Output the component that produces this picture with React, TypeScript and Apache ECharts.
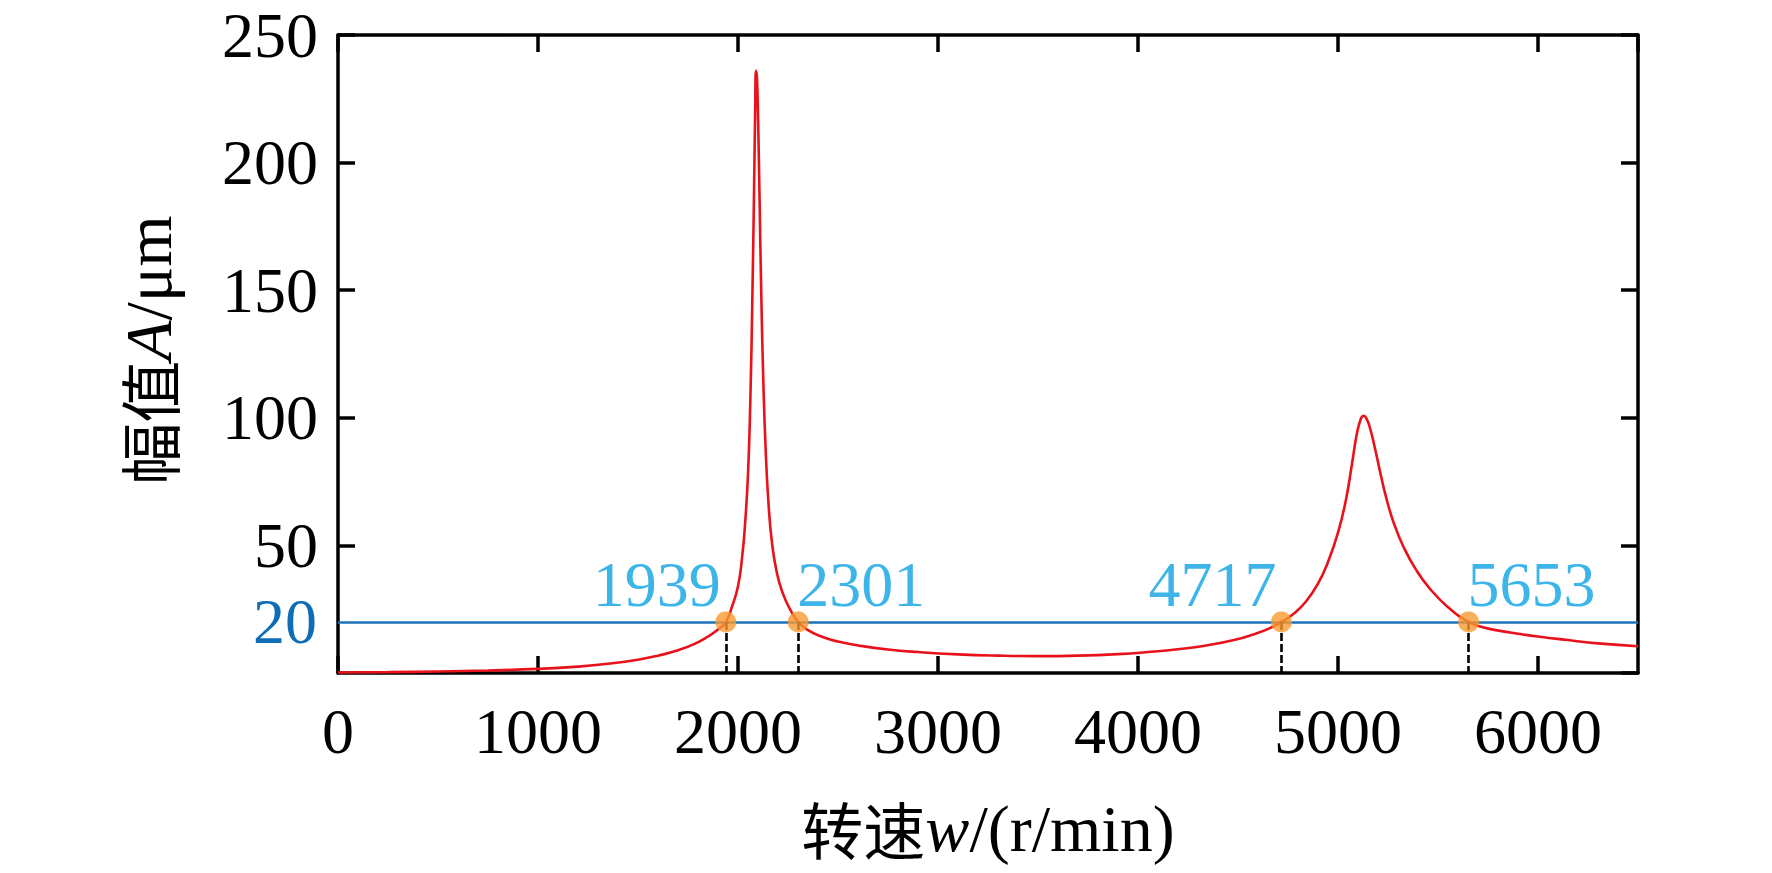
import React, { useEffect, useRef } from "react";
import * as echarts from "echarts";

// Amplitude–speed response curve
const curveRpm = [
  0, 250, 500, 750, 1000, 1200, 1350, 1500, 1600, 1700, 1780, 1850, 1900, 1939,
  1970, 2000, 2020, 2035, 2050, 2062, 2072, 2080, 2086, 2090, 2095, 2101, 2108,
  2116, 2126, 2138, 2152, 2170, 2195, 2225, 2260, 2301, 2350, 2420, 2500, 2600,
  2750, 2900, 3100, 3300, 3500, 3700, 3900, 4050, 4200, 4350, 4480, 4580, 4660,
  4717, 4780, 4840, 4900, 4950, 5000, 5040, 5070, 5095, 5115, 5128, 5142, 5160,
  5185, 5210, 5240, 5280, 5330, 5390, 5460, 5550, 5653, 5720, 5810, 5900,
  6000, 6150, 6300, 6500,
];
const curveAmp = [
  0.2, 0.35, 0.6, 1.0, 1.6, 2.5, 3.6, 5.2, 6.8, 8.9, 11.3, 14.3, 17.0, 20,
  26, 34, 45, 58, 78, 108, 148, 188, 221, 236, 233, 215, 185,
  150, 116, 88, 67, 51, 39, 31, 25, 20, 16.8, 14.2, 12.3, 10.8,
  9.2, 8.2, 7.3, 6.8, 6.6, 6.8, 7.4, 8.2, 9.3, 10.9, 12.9, 15.2, 17.6,
  20, 23.3, 28, 35, 43.5, 55, 68, 82, 94, 99.7, 100.8, 99.8, 96,
  88, 79, 69, 58.5, 49, 40.5, 33, 25.8, 20, 18.0, 16.5, 15.4,
  14.3, 12.9, 11.6, 10.5,
];

const threshold = 20;
const crossRpm = [1939, 2301, 4717, 5653];
const crossLabelAlign = ["right", "left", "right", "left"];

const xMin = 0;
const xMax = 6500;
const xStep = 1000;
const yMin = 0;
const yMax = 250;
const yStep = 50;

const SERIF = "'Liberation Serif', 'Times New Roman', serif";
const CJK = "'Noto Sans CJK SC', 'Liberation Serif', serif";

export default function App() {
  const ref = useRef<HTMLDivElement>(null);

  useEffect(() => {
    document.body.style.margin = "0";
    if (!ref.current) return;
    const chart = echarts.init(ref.current, undefined, { renderer: "svg" });

    const axisLineStyle = { color: "#000", width: 3.5 };
    const tickCommon = {
      show: true,
      inside: true,
      length: 17,
      lineStyle: { color: "#000", width: 3.5 },
    };
    const labelCommon = {
      fontSize: 64,
      fontFamily: SERIF,
      color: "#000",
      formatter: (v: number) => String(v),
    };

    const option: any = {
      animation: false,
      backgroundColor: "#fff",
      grid: { left: 338, right: 134, top: 35, bottom: 200, containLabel: false },
      xAxis: [
        {
          type: "value",
          min: xMin,
          max: xMax,
          interval: xStep,
          position: "bottom",
          axisLine: { show: true, onZero: false, lineStyle: axisLineStyle },
          axisTick: tickCommon,
          axisLabel: { ...labelCommon, margin: 26, showMaxLabel: false },
          splitLine: { show: false },
        },
        {
          type: "value",
          min: xMin,
          max: xMax,
          interval: xStep,
          position: "top",
          axisLine: { show: true, onZero: false, lineStyle: axisLineStyle },
          axisTick: tickCommon,
          axisLabel: { show: false },
          splitLine: { show: false },
        },
      ],
      yAxis: [
        {
          type: "value",
          min: yMin,
          max: yMax,
          interval: yStep,
          position: "left",
          axisLine: { show: true, onZero: false, lineStyle: axisLineStyle },
          axisTick: tickCommon,
          axisLabel: { ...labelCommon, margin: 20, showMinLabel: false },
          splitLine: { show: false },
        },
        {
          type: "value",
          min: yMin,
          max: yMax,
          interval: yStep,
          position: "right",
          axisLine: { show: true, onZero: false, lineStyle: axisLineStyle },
          axisTick: tickCommon,
          axisLabel: { show: false },
          splitLine: { show: false },
        },
      ],
      graphic: [
        {
          type: "text",
          x: 988,
          y: 828,
          style: {
            text: "{c|转速}{i|w}{n|/(r/min)}",
            align: "center",
            verticalAlign: "middle",
            textAlign: "center",
            textVerticalAlign: "middle",
            fill: "#000",
            rich: {
              c: { fontFamily: CJK, fontSize: 62, lineHeight: 68, fill: "#000", color: "#000" },
              i: { fontFamily: SERIF, fontSize: 66, lineHeight: 68, fontStyle: "italic", fill: "#000", color: "#000" },
              n: { fontFamily: SERIF, fontSize: 66, lineHeight: 68, fill: "#000", color: "#000" },
            },
          },
        },
        {
          type: "text",
          x: 148,
          y: 350,
          rotation: Math.PI / 2,
          style: {
            text: "{c|幅值}{i|A}{n|/μm}",
            align: "center",
            verticalAlign: "middle",
            textAlign: "center",
            textVerticalAlign: "middle",
            fill: "#000",
            rich: {
              c: { fontFamily: CJK, fontSize: 62, lineHeight: 68, fill: "#000", color: "#000" },
              i: { fontFamily: SERIF, fontSize: 66, lineHeight: 68, fontStyle: "italic", fill: "#000", color: "#000" },
              n: { fontFamily: SERIF, fontSize: 66, lineHeight: 68, fill: "#000", color: "#000" },
            },
          },
        },
      ],
      series: [
        {
          type: "line",
          xAxisIndex: 0,
          yAxisIndex: 0,
          data: curveRpm.map((x, i) => [x, curveAmp[i]]),
          showSymbol: false,
          symbol: "none",
          smooth: 0.5,
          lineStyle: { color: "#e8121a", width: 2.6 },
          z: 3,
          markLine: {
            silent: true,
            symbol: ["none", "none"],
            data: [{ yAxis: threshold }],
            lineStyle: { color: "#1b72b9", width: 2.6, type: "solid" },
            label: {
              show: true,
              position: "start",
              distance: 21,
              formatter: String(threshold),
              color: "#0f6db5",
              fontSize: 64,
              fontFamily: SERIF,
            },
            z: 2,
          },
        },
        {
          type: "scatter",
          xAxisIndex: 0,
          yAxisIndex: 0,
          symbol: "circle",
          symbolSize: 21,
          itemStyle: { color: "#f89a30" },
          z: 6,
          data: crossRpm.map((x, i) => ({
            value: [x, threshold],
            label: {
              show: true,
              position: "inside",
              align: crossLabelAlign[i],
              verticalAlign: "middle",
              offset: [crossLabelAlign[i] === "right" ? -5 : -1, -37],
              formatter: String(x),
              color: "#0ea2e4",
              fontSize: 64,
              fontFamily: SERIF,
            },
          })),
          markLine: {
            silent: true,
            symbol: ["none", "none"],
            label: { show: false },
            lineStyle: { color: "#000", width: 2.6, type: [8, 3] },
            data: crossRpm.map((x) => [
              { coord: [x, threshold] },
              { coord: [x, yMin] },
            ]),
            z: 4,
          },
        },
      ],
    };

    chart.setOption(option);
    return () => chart.dispose();
  }, []);

  return <div ref={ref} style={{ width: 1772, height: 873 }} />;
}
